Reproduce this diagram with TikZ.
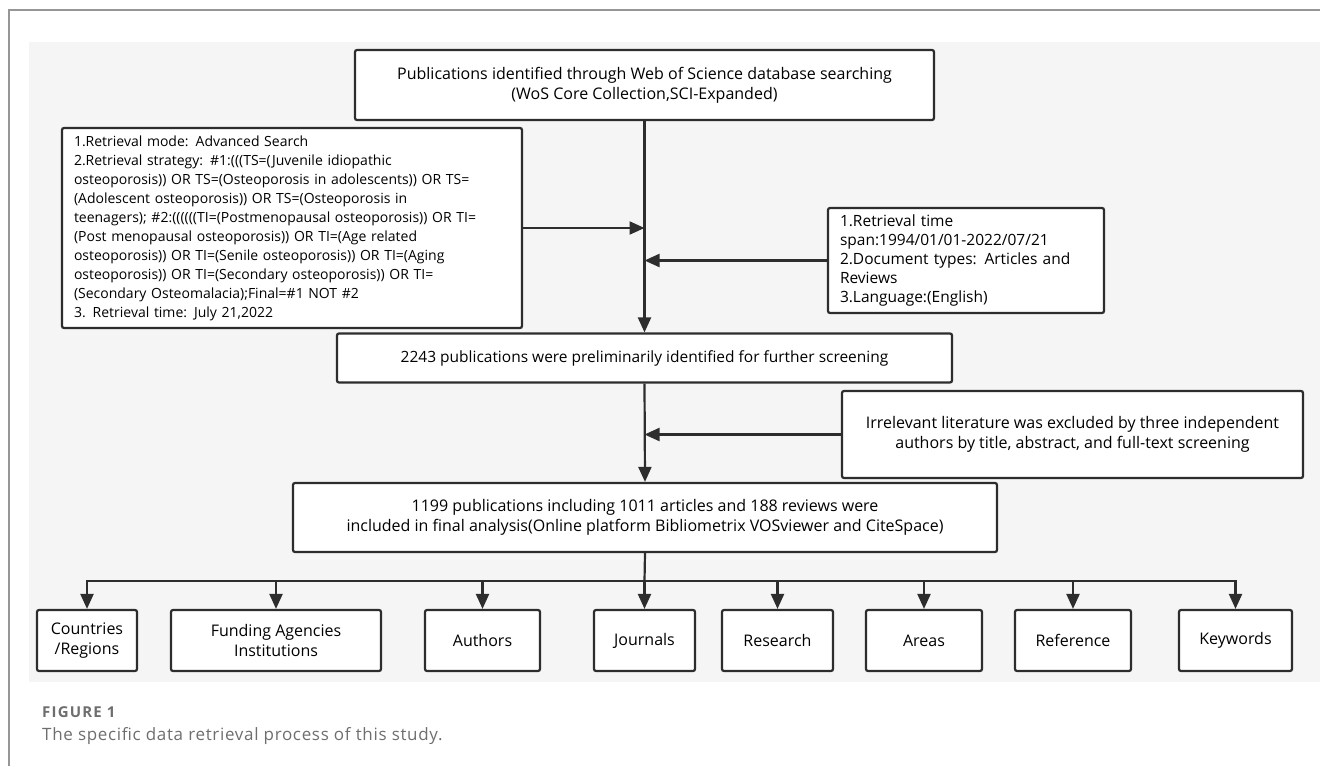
\documentclass[tikz,border=0pt]{standalone}
\usepackage{fontspec}
\setmainfont{Open Sans}
\usetikzlibrary{arrows.meta}
\definecolor{lgray}{RGB}{245,245,245}
\definecolor{dgray}{RGB}{45,45,45}
\definecolor{fgray}{RGB}{150,150,150}
\definecolor{cgray}{RGB}{110,110,110}

\begin{document}
\begin{tikzpicture}[x=1pt,y=-1pt,
    box/.style={draw=dgray,line width=2.2pt,fill=white,rounded corners=2pt,inner sep=0pt,
      align=center,font=\fontsize{16}{20}\selectfont},
    arr/.style={draw=dgray,line width=2.2pt,-{Triangle[length=15pt,width=13pt]}}]
  \useasboundingbox (0,0) rectangle (1320,766);
  \fill[lgray] (29,42) rectangle (1320,682);
  \draw[fgray,line width=2pt] (9,766) -- (9,10) -- (1320,10);

  \node[box,minimum width=579pt,minimum height=70pt] (wos) at (644.5,85)
    {Publications identified through Web of Science database searching\\(WoS Core Collection,SCI-Expanded)};
  \node[box,minimum width=460pt,minimum height=200pt,text width=436pt,align=left,
    font=\fontsize{14}{19}\selectfont] (crit) at (292,228)
    {1.Retrieval mode: Advanced Search\\
     2.Retrieval strategy: \#1:(((TS=(Juvenile idiopathic\\
     osteoporosis)) OR TS=(Osteoporosis in adolescents)) OR TS=\\
     (Adolescent osteoporosis)) OR TS=(Osteoporosis in\\
     teenagers); \#2:((((((TI=(Postmenopausal osteoporosis)) OR TI=\\
     (Post menopausal osteoporosis)) OR TI=(Age related\\
     osteoporosis)) OR TI=(Senile osteoporosis)) OR TI=(Aging\\
     osteoporosis)) OR TI=(Secondary osteoporosis)) OR TI=\\
     (Secondary Osteomalacia);Final=\#1 NOT \#2\\
     3. Retrieval time: July 21,2022};
  \node[box,minimum width=276pt,minimum height=105pt,text width=252pt,align=left,
    font=\fontsize{15.5}{19}\selectfont] (span) at (966,260.5)
    {1.Retrieval time\\span:1994/01/01-2022/07/21\\2.Document types: Articles and\\Reviews\\3.Language:(English)};
  \node[box,minimum width=615pt,minimum height=49pt,font=\fontsize{15.5}{20}\selectfont] (prelim) at (644.5,358)
    {2243 publications were preliminarily identified for further screening};
  \node[box,minimum width=461pt,minimum height=87pt] (excl) at (1072.5,434.5)
    {Irrelevant literature was excluded by three independent\\authors by title, abstract, and full-text screening};
  \node[box,minimum width=704pt,minimum height=69pt] (final) at (645,517.5)
    {1199 publications including 1011 articles and 188 reviews were\\included in final analysis(Online platform Bibliometrix VOSviewer and CiteSpace)};

  \node[box,minimum width=100pt,minimum height=61pt] (countries) at (87,640.5) {Countries\\/Regions};
  \node[box,minimum width=210pt,minimum height=61pt] (funding) at (276,640.5) {Funding Agencies\\Institutions};
  \node[box,minimum width=115pt,minimum height=61pt] (authors) at (482.5,640.5) {Authors};
  \node[box,minimum width=101pt,minimum height=61pt] (journals) at (644.5,640.5) {Journals};
  \node[box,minimum width=111pt,minimum height=61pt] (research) at (777.5,640.5) {Research};
  \node[box,minimum width=116pt,minimum height=61pt] (areas) at (924,640.5) {Areas};
  \node[box,minimum width=116pt,minimum height=61pt] (reference) at (1073,640.5) {Reference};
  \node[box,minimum width=113pt,minimum height=61pt] (keywords) at (1235.5,640.5) {Keywords};
  \coordinate (split) at (644.5,581);

  \draw[arr] (wos.south) -- (prelim.north);
  \draw[arr] (crit.east) -- (crit.east -| wos.south);
  \draw[arr] (span.west) -- (span.west -| wos.south);
  \draw[arr] (prelim.south) -- (final.north);
  \draw[arr] (excl.west) -- (excl.west -| prelim.south);
  \draw[dgray,line width=2.2pt] (final.south) -- (split);
  \foreach \b in {countries,funding,authors,journals,research,areas,reference,keywords}
    \draw[arr] (split) -| (\b.north);

  \node[anchor=west,text=cgray,inner sep=0pt,
    font=\fontsize{15}{18}\selectfont\bfseries\addfontfeatures{LetterSpace=8}] (fig) at (42,712) {FIGURE 1};
  \node[anchor=west,text=cgray,inner sep=0pt,
    font=\fontsize{17}{21}\selectfont\addfontfeatures{LetterSpace=4}] (cap) at (42,736)
    {The specific data retrieval process of this study.};
\end{tikzpicture}
\end{document}
